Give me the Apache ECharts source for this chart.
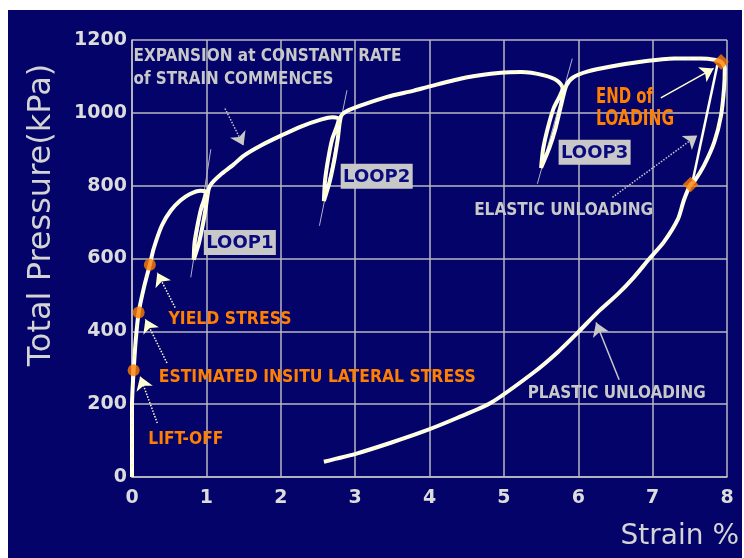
<!DOCTYPE html>
<html><head><meta charset="utf-8">
<script src="https://cdn.jsdelivr.net/npm/echarts/dist/echarts.min.js"></script>
<style>html,body{margin:0;padding:0;background:#fff}#c{width:744px;height:558px}</style>
</head><body><div id="c"></div>
<script>
// ---------- data ----------
const xTickValues = [0, 1, 2, 3, 4, 5, 6, 7, 8];
const yTickValues = [0, 200, 400, 600, 800, 1000, 1200];

// strain %, total pressure kPa — full test path (loading, loops, unloading)
const loadingPath = [
  [0,0],[0.0,120],[0.0,200],[0.01,250],[0.022,293],[0.05,375],[0.09,452],[0.16,520],[0.24,583],
  [0.29,626],[0.40,690],[0.52,731],[0.65,759],[0.78,777],[0.92,786],[1.0,783]
];
const loop1Path = [[0.93,737],[0.88,690],[0.84,642],[0.83,597],[0.90,642],[0.95,690],[0.99,737],[1.03,790],[1.07,806]];
const midPath1 = [[1.19,830],[1.36,857],[1.50,882],[1.74,911],[2.01,938],[2.28,963],[2.55,982],[2.69,988],[2.78,983]];
const loop2Path = [[2.69,926],[2.635,870],[2.595,813],[2.58,758],[2.66,813],[2.72,870],[2.765,926],[2.81,990],[2.89,1005]];
const midPath2 = [[3.10,1022],[3.43,1044],[3.79,1061],[3.99,1072],[4.49,1097],[4.96,1110],[5.23,1112],[5.54,1103],[5.72,1088],[5.79,1068]];
const loop3Path = [[5.67,1013],[5.59,958],[5.53,903],[5.50,849],[5.61,903],[5.695,958],[5.76,1013],[5.84,1075],[5.93,1097]];
const finalLoading = [[6.12,1113],[6.44,1127],[6.84,1140],[7.29,1149],[7.65,1149],[7.83,1146],[7.92,1140]];
const elasticUnloading = [[7.97,1122],[7.96,1067],[7.92,993],[7.83,920],[7.69,855],[7.56,812],[7.51,803]];
const plasticUnloading = [[7.42,760],[7.34,708],[7.15,645],[6.95,598],[6.75,549],[6.53,502],[6.26,452],[6.01,400],
  [5.72,342],[5.40,287],[4.82,203],[4.37,162],[3.92,125],[3.48,94],[3.03,65],[2.58,42]];
const elasticReload = [[7.87,1131],[7.54,814]];
const loop1Elastic = [[1.06,900],[0.79,548]];
const loop2Elastic = [[2.89,1062],[2.52,690]];
const loop3Elastic = [[5.92,1149],[5.45,805]];
const keyPoints = [[0.022,293],[0.09,452],[0.24,583]];   // lift-off, insitu, yield
const endPoints = [[7.92,1140],[7.51,803]];                // end of loading, end of elastic unloading

const fullPath = [].concat(loadingPath, loop1Path, midPath1, loop2Path, midPath2, loop3Path,
  finalLoading, elasticUnloading, plasticUnloading);

// ---------- annotations (data coords) ----------
const GRAY = '#c8c8c8', ORANGE = '#ff8000', CREAM = '#ffffd0';
const labels = [
  {t:'EXPANSION at CONSTANT RATE', x:0.02, y:1154, c:GRAY, w:268},
  {t:'of STRAIN COMMENCES', x:0.02, y:1090, c:GRAY, w:200},
  {t:'END of', x:6.24, y:1041, c:ORANGE, w:57, big:true},
  {t:'LOADING', x:6.24, y:981, c:ORANGE, w:78, big:true},
  {t:'ELASTIC UNLOADING', x:4.60, y:731, c:GRAY, w:179},
  {t:'PLASTIC UNLOADING', x:5.32, y:229, c:GRAY, w:178},
  {t:'YIELD STRESS', x:0.49, y:433, c:ORANGE, w:123},
  {t:'ESTIMATED INSITU LATERAL STRESS', x:0.36, y:272, c:ORANGE, w:317},
  {t:'LIFT-OFF', x:0.22, y:104, c:ORANGE, w:75}
];
const loopBoxes = [
  {t:'LOOP1', x:1.45, y:644},
  {t:'LOOP2', x:3.29, y:826},
  {t:'LOOP3', x:6.22, y:892}
];
const arrows = [
  {from:[1.25,1012], to:[1.50,910], c:GRAY, type:'dotted'},
  {from:[7.11,1041], to:[7.82,1122], c:CREAM, type:'solid'},
  {from:[6.46,768], to:[7.60,938], c:GRAY, type:'dotted'},
  {from:[6.55,267], to:[6.24,424], c:GRAY, type:'solid'},
  {from:[0.58,465], to:[0.34,561], c:CREAM, type:'dotted'},
  {from:[0.47,313], to:[0.18,433], c:CREAM, type:'dotted'},
  {from:[0.34,148], to:[0.11,276], c:CREAM, type:'dotted'}
];

const NAVY = '#03036a';
const chart = echarts.init(document.getElementById('c'), null, {renderer:'canvas'});
const thin = (d, w, col) => ({type:'line', data:d, symbol:'none', lineStyle:{color:col, width:w}, z:3, silent:true});

chart.setOption({
  animation:false,
  backgroundColor: NAVY,
  grid:{left:132, right:17, top:40, bottom:81},
  xAxis:{type:'value', min:0, max:8, interval:1,
    axisLine:{show:true, onZero:false, lineStyle:{color:'#c0c0c0', width:1.5}},
    axisTick:{show:false},
    splitLine:{show:true, lineStyle:{color:'#b8b8c0', width:1.5}},
    axisLabel:{color:'#dcdcdc', fontFamily:'DejaVu Sans', fontWeight:'bold', fontSize:19, margin:12,
      formatter:v => xTickValues.includes(v) ? String(v) : ''}},
  yAxis:{type:'value', min:0, max:1200, interval:200,
    axisLine:{show:true, lineStyle:{color:'#c0c0c0', width:1.5}},
    axisTick:{show:false},
    splitLine:{show:true, lineStyle:{color:'#b8b8c0', width:1.5}},
    axisLabel:{color:'#dcdcdc', fontFamily:'DejaVu Sans', fontWeight:'bold', fontSize:19, margin:5,
      formatter:v => yTickValues.includes(v) ? String(v) : ''}},
  series:[
    thin(loop1Elastic, 1, '#b0b0c8'),
    thin(loop2Elastic, 1, '#b0b0c8'),
    thin(loop3Elastic, 1, '#b0b0c8'),
    thin(elasticReload, 2.5, '#fffff0'),
    {type:'line', data:fullPath, symbol:'none', smooth:0.25, z:4,
      lineStyle:{color:'#fffff2', width:4}},
    {type:'line', data:fullPath, symbol:'none', smooth:0.25, z:5,
      lineStyle:{color:'#ffffa8', width:2, type:[3,7]}},
    {type:'scatter', data:keyPoints, symbol:'circle', symbolSize:12, z:6,
      itemStyle:{color:ORANGE}},
    {type:'scatter', data:endPoints, symbol:'rect', symbolRotate:45, symbolSize:11, z:6,
      itemStyle:{color:ORANGE}},
    {type:'line', data:[], z:6,
      markLine:{silent:true, symbol:['none','arrow'], symbolSize:13, label:{show:false},
        data: arrows.map(a => [
          {coord:a.from, lineStyle:{color:a.c, width:1.5, type:a.type}},
          {coord:a.to}
        ])}}
  ]
});

// ---------- text annotations ----------
const ctx = document.createElement('canvas').getContext('2d');
const FONT_FAM = '"DejaVu Sans Condensed", "Liberation Sans Narrow", sans-serif';
function measure(t, size){ ctx.font = 'bold ' + size + 'px ' + FONT_FAM; return ctx.measureText(t).width; }

const graphics = [];
// white page margin strips
graphics.push({type:'rect', left:0, top:0, shape:{width:744, height:10}, style:{fill:'#fff'}, z:100, silent:true});
graphics.push({type:'rect', left:0, top:0, shape:{width:8, height:558}, style:{fill:'#fff'}, z:100, silent:true});
graphics.push({type:'rect', right:0, top:0, shape:{width:2, height:558}, style:{fill:'#fff'}, z:100, silent:true});

labels.forEach(l => {
  const p = chart.convertToPixel({gridIndex:0}, [l.x, l.y]);
  const size = l.big ? 21 : 17;
  const sx = l.w / measure(l.t, size);
  graphics.push({type:'text', x:p[0], y:p[1], scaleX:sx, z:50, silent:true,
    style:{text:l.t, fill:l.c, font:'bold ' + size + 'px ' + FONT_FAM, textAlign:'left', textVerticalAlign:'middle'}});
});
loopBoxes.forEach(b => {
  const p = chart.convertToPixel({gridIndex:0}, [b.x, b.y]);
  graphics.push({type:'rect', x:p[0]-36, y:p[1]-12.5, shape:{width:72, height:25}, style:{fill:'#c8c8c8'}, z:50, silent:true});
  graphics.push({type:'text', x:p[0], y:p[1]+1, z:51, silent:true,
    style:{text:b.t, fill:'#0a0a80', font:'bold 18px "DejaVu Sans"', textAlign:'center', textVerticalAlign:'middle'}});
});
// axis titles
graphics.push({type:'text', x:42, y:215, rotation:Math.PI/2, z:50, silent:true,
  style:{text:'Total Pressure(kPa)', fill:'#d4d4d4', font:'32px "DejaVu Sans"', textAlign:'center', textVerticalAlign:'middle'}});
graphics.push({type:'text', x:739, y:537, z:50, silent:true,
  style:{text:'Strain %', fill:'#d4d4d4', font:'28px "DejaVu Sans"', textAlign:'right', textVerticalAlign:'middle'}});

chart.setOption({graphic:graphics});
</script></body></html>
